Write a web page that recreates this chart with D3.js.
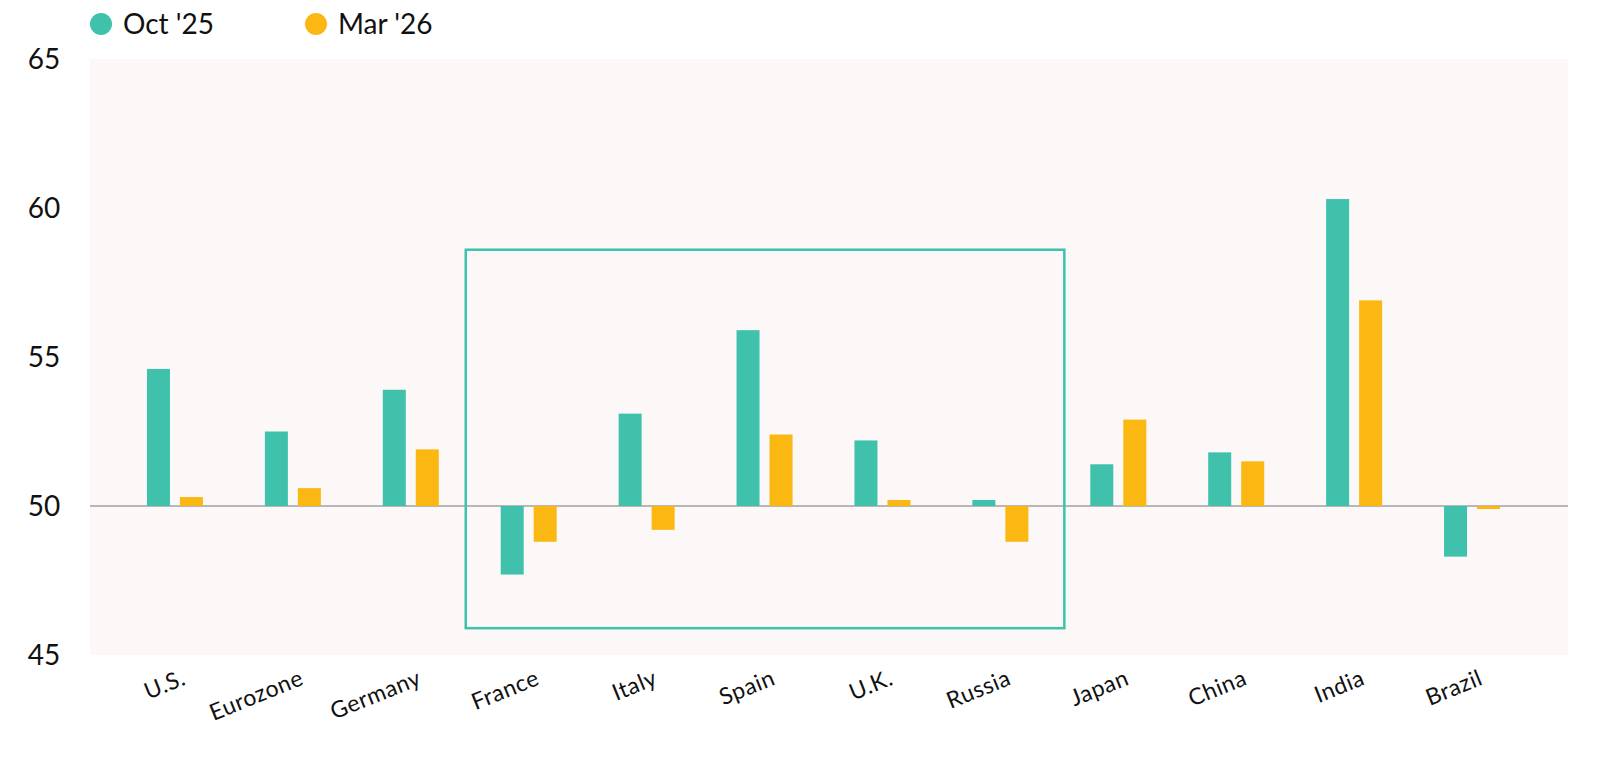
<!DOCTYPE html>
<html><head><meta charset="utf-8">
<script src="https://cdn.jsdelivr.net/npm/d3@7"></script>
<style>body{margin:0;background:#fff;font-family:Lato,"Open Sans",sans-serif;}</style>
</head><body><svg id="c" width="1600" height="761"></svg>
<script>
const categories=["U.S.","Eurozone","Germany","France","Italy","Spain","U.K.","Russia","Japan","China","India","Brazil"];
const oct25=[54.6,52.5,53.9,47.7,53.1,55.9,52.2,50.2,51.4,51.8,60.3,48.3];
const mar26=[50.3,50.6,51.9,48.8,49.2,52.4,50.2,48.8,52.9,51.5,56.9,49.9];
const yTicks=[45,50,55,60,65];
const seriesNames=["Oct '25","Mar '26"];
const colors=["#40c1ac","#fbb813"];

const svg=d3.select("#c");
const x=d3.scaleBand().domain(categories).range([116,1531]);
const y=d3.scaleLinear().domain([45,65]).range([655,59]);
svg.append("rect").attr("x",90).attr("y",y(65)).attr("width",1478).attr("height",y(45)-y(65)).attr("fill","#fbf8f7");
svg.selectAll(".yt").data(yTicks).enter().append("text").attr("x",44).attr("y",d=>y(d)+10)
 .attr("text-anchor","middle").attr("font-size",28).attr("fill","#111").text(d=>d);
svg.append("line").attr("x1",90).attr("x2",1568).attr("y1",y(50)).attr("y2",y(50)).attr("stroke","#777").attr("stroke-width",1.2);
const bw=23,gap=10;
[oct25,mar26].forEach((s,i)=>{
 svg.selectAll(".b"+i).data(s).enter().append("rect")
  .attr("x",(d,j)=>x(categories[j])+x.bandwidth()/2-bw-gap/2+i*(bw+gap))
  .attr("y",d=>y(Math.max(d,50))).attr("width",bw)
  .attr("height",d=>Math.abs(y(d)-y(50))).attr("fill",colors[i]);
});
svg.append("rect").attr("x",x("France")-4).attr("y",y(58.6))
 .attr("width",x("Russia")+x.bandwidth()-x("France")+9).attr("height",y(45.9)-y(58.6))
 .attr("fill","none").attr("stroke","#40c1ac").attr("stroke-width",2.5);
svg.selectAll(".xl").data(categories).enter().append("text")
 .attr("transform",d=>`translate(${x(d)+x.bandwidth()/2+12},${684}) rotate(-22)`)
 .attr("text-anchor","end").attr("font-size",23).attr("letter-spacing",0.5).attr("fill","#111").text(d=>d);
const lx=[101,316];
seriesNames.forEach((n,i)=>{
 svg.append("circle").attr("cx",lx[i]).attr("cy",24).attr("r",11).attr("fill",colors[i]);
 svg.append("text").attr("x",lx[i]+22).attr("y",34).attr("font-size",28).attr("fill","#111").text(n);
});
</script></body></html>
